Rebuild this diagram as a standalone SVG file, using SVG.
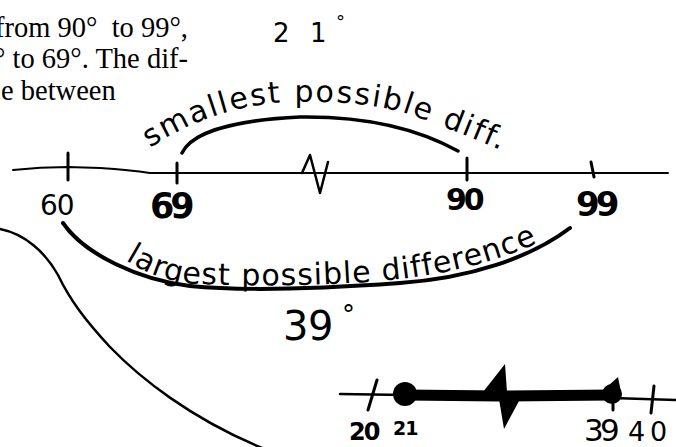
<svg xmlns="http://www.w3.org/2000/svg" width="676" height="447" viewBox="0 0 676 447">
<style>
.pr{font-family:"Liberation Serif","Times New Roman",serif;font-size:28.5px;fill:#000}
.hw{font-family:"DejaVu Sans","Noto Sans",sans-serif;fill:#000}
.ln{fill:none;stroke:#000;stroke-linecap:round;stroke-linejoin:round}
</style>
<defs>
<path id="pSmall" d="M 150 148 Q 215 105 290 102 Q 360 100 405 113 Q 450 128 505 152"/>
<path id="pLarge" d="M 125 260 C 150 275 170 283 200 284 C 260 287 330 285 380 281 C 440 276 500 262 548 238"/>
</defs>
<rect width="676" height="447" fill="#fff"/>
<g id="printed">
<text class="pr" x="-5" y="37" xml:space="preserve">from 90°  to 99°,</text>
<text class="pr" x="-6" y="68" xml:space="preserve">° to 69°. The dif-</text>
<text class="pr" x="1" y="100">e between</text>
</g>
<g id="top-answer">
<text class="hw" font-size="26" y="42"><tspan x="273">2</tspan><tspan x="310">1</tspan><tspan x="336" dy="-14" font-size="18">°</tspan></text>
</g>
<g id="smallest">
<text class="hw" font-size="30" letter-spacing="2"><textPath href="#pSmall">smallest possible diff.</textPath></text>
<path class="ln" stroke-width="3.5" d="M 182 153 C 192 132 235 120 300 117 C 370 116 420 130 458 151"/>
</g>
<g id="number-line">
<path class="ln" stroke-width="2" d="M 13 170 Q 40 167 68 167 L 100 168 Q 130 170 150 173 L 668 173"/>
<path class="ln" stroke-width="3" d="M 68 153 L 68 180 M 177 163 L 177 183 M 467 158 L 467 180 M 591 162 L 594 177"/>
<path class="ln" stroke-width="2.5" d="M 302 173 L 310 155 L 320 193 L 328 162"/>
<text class="hw" font-size="28" x="40" y="215" letter-spacing="-1">60</text>
<text class="hw" font-size="35" font-weight="bold" x="150" y="218" letter-spacing="-4">69</text>
<text class="hw" font-size="30" font-weight="bold" x="446" y="210" letter-spacing="-3">90</text>
<text class="hw" font-size="34" font-weight="bold" x="576" y="216" letter-spacing="-4">99</text>
</g>
<g id="largest">
<path class="ln" stroke-width="4" d="M 63 223 C 85 255 140 280 190 286 C 250 292 330 288 400 283 C 470 278 530 258 570 228"/>
<text class="hw" font-size="30" letter-spacing="1"><textPath href="#pLarge">largest possible difference</textPath></text>
<text class="hw" font-size="40" y="340"><tspan x="283">3</tspan><tspan x="308">9</tspan><tspan x="342" dy="-16" font-size="26">°</tspan></text>
</g>
<g id="curve">
<path class="ln" stroke-width="2.5" d="M 0 229 C 25 234 45 252 58 275 C 70 300 85 320 110 347 C 140 378 190 418 262 448"/>
</g>
<g id="bottom-line">
<path class="ln" stroke-width="2.5" d="M 340 394 L 405 395 M 612 398 L 676 400"/>
<path class="ln" stroke-width="11" d="M 405 395 L 500 396 L 612 395"/>
<circle cx="405" cy="394" r="12" fill="#000"/>
<circle cx="612" cy="394" r="10" fill="#000"/>
<polygon points="608,386 618,377 621,392" fill="#000"/>
<polygon points="483,392 505,364 507,392 519,401 504,429 499,399" fill="#000"/>
<path class="ln" stroke-width="3" d="M 377 380 L 368 410 M 654 386 L 651 413 M 613 400 L 613 410"/>
<text class="hw" font-size="24" font-weight="bold" x="349" y="440" letter-spacing="-2">20</text>
<text class="hw" font-size="19" font-weight="bold" x="393" y="435" letter-spacing="-1">21</text>
<text class="hw" font-size="31" y="441"><tspan x="584">3</tspan><tspan x="600">9</tspan></text>
<text class="hw" font-size="27" y="441"><tspan x="628">4</tspan><tspan x="650">0</tspan></text>
</g>
</svg>
